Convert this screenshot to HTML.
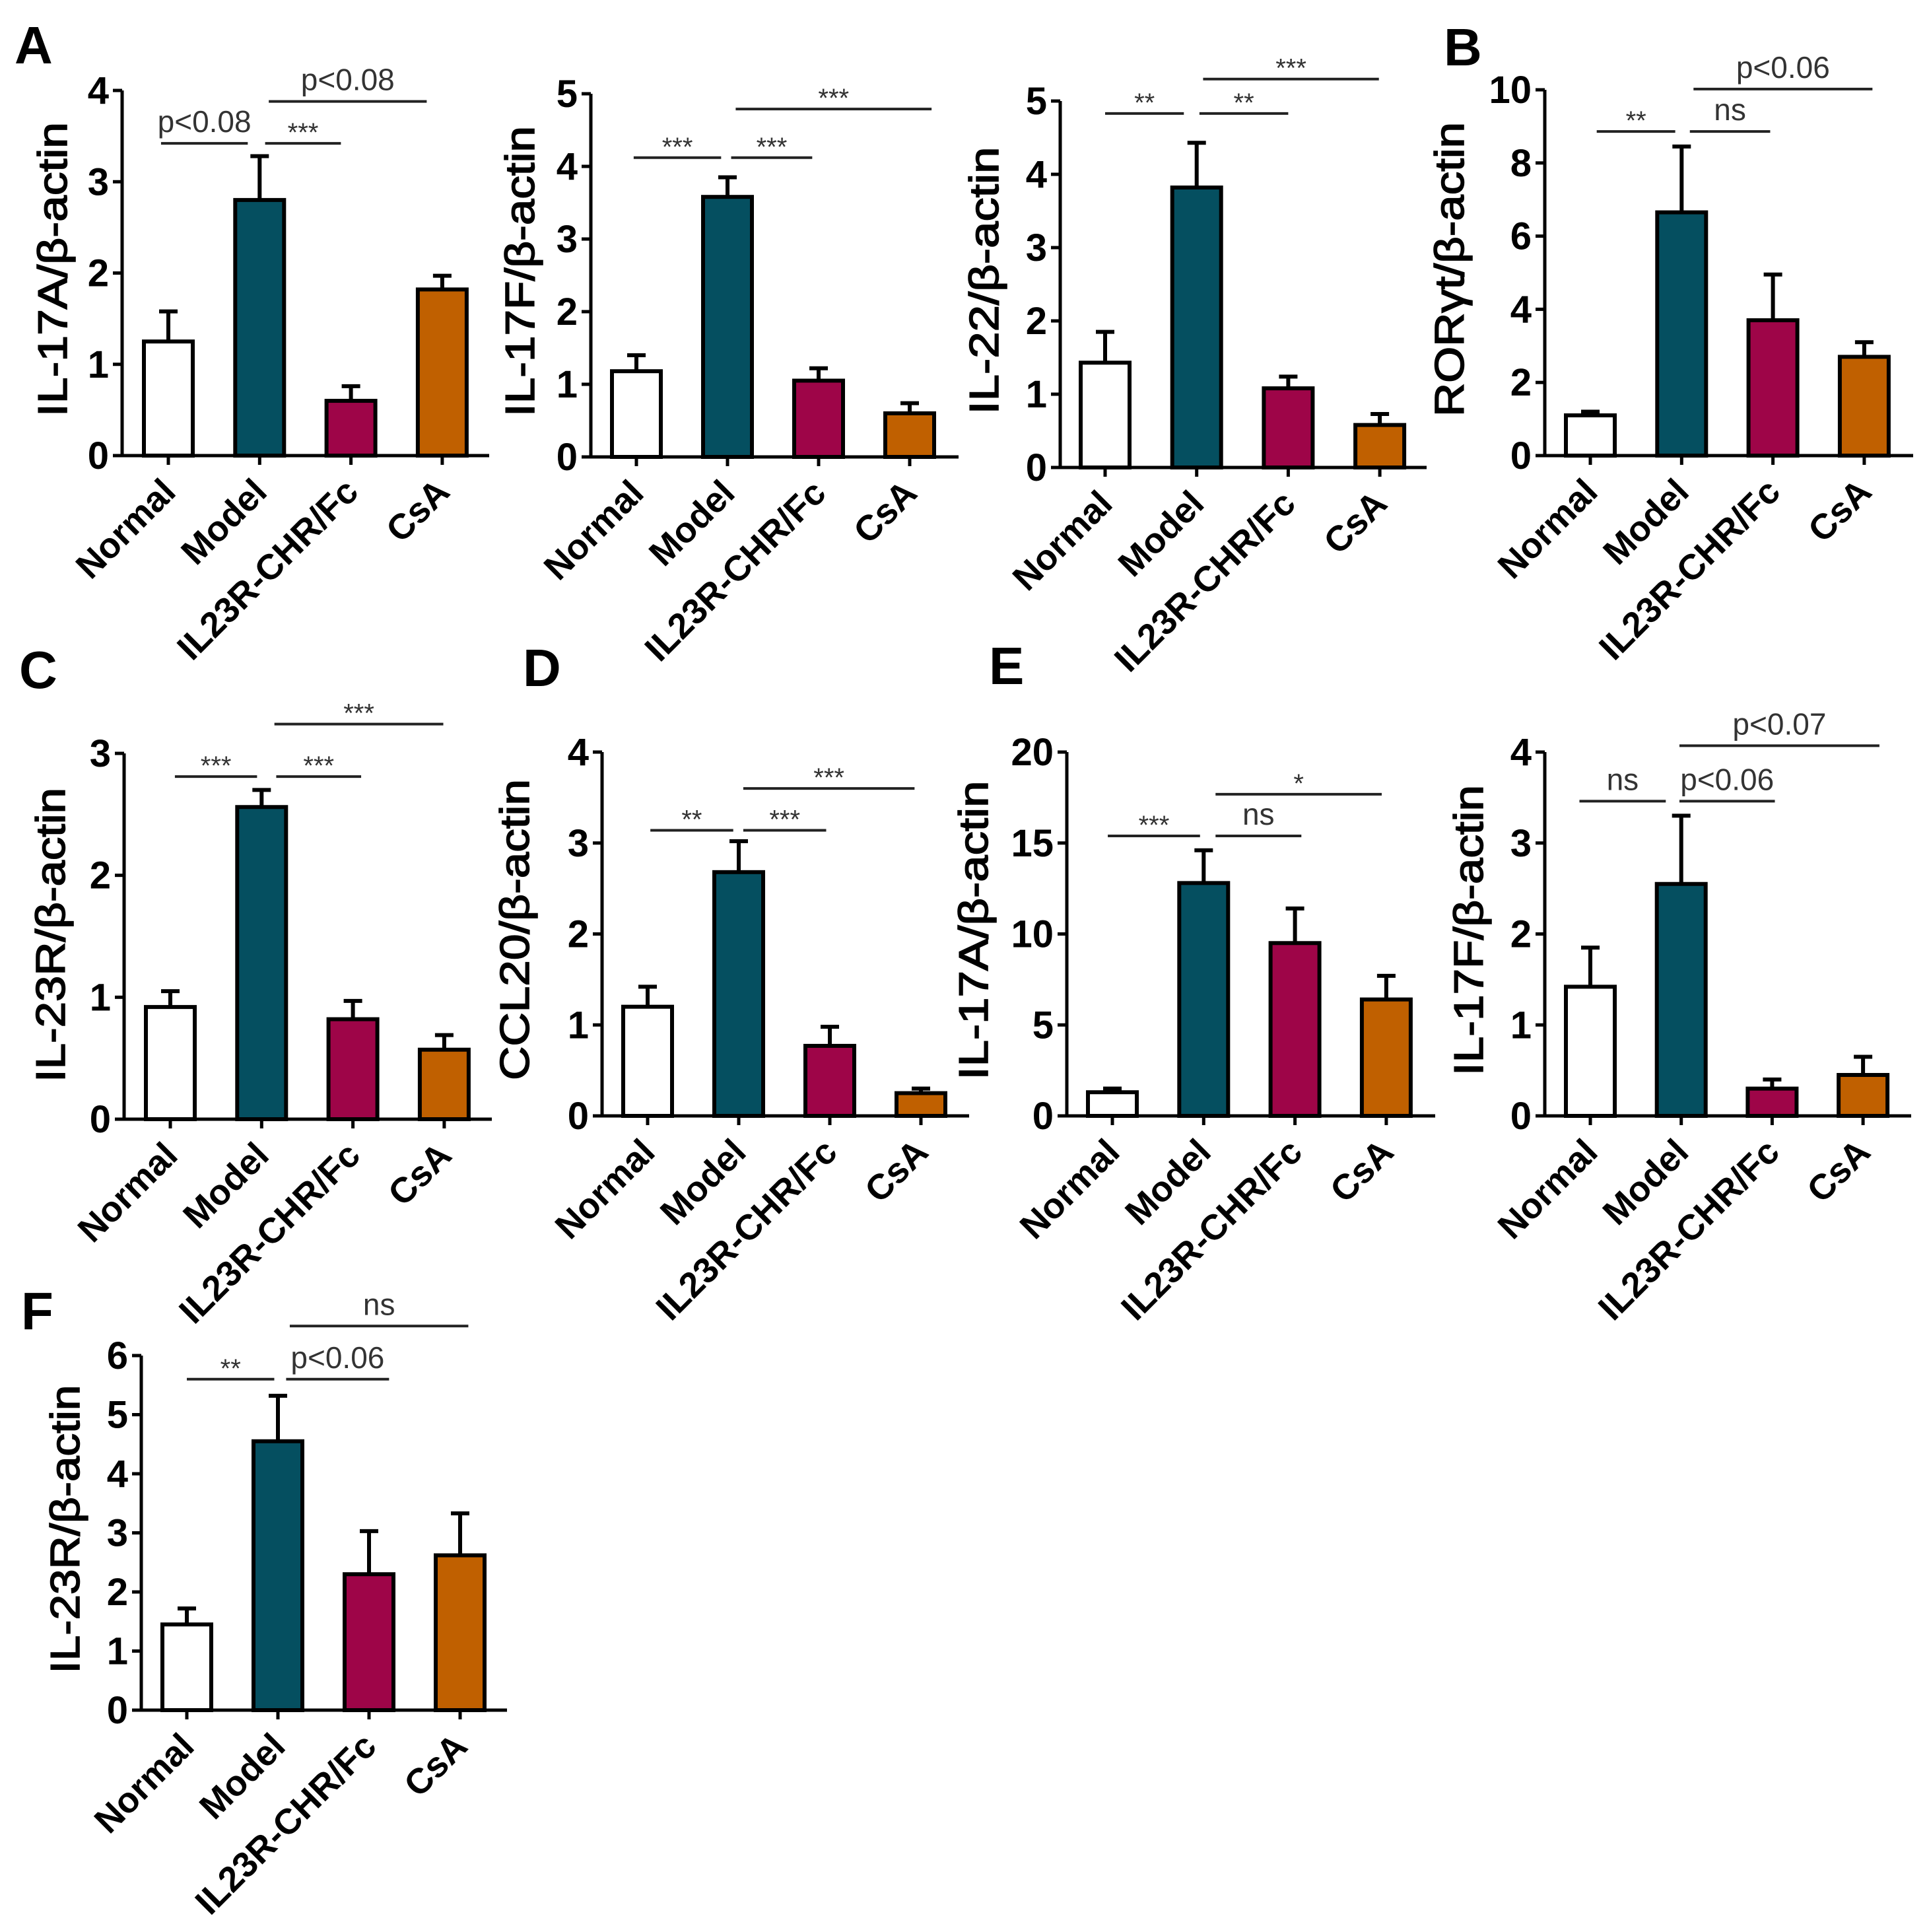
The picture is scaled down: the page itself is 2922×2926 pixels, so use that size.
<!DOCTYPE html>
<html><head><meta charset="utf-8">
<style>
html,body{margin:0;padding:0;background:#fff;}
svg{display:block;font-family:"Liberation Sans",Arial,sans-serif;}
</style></head>
<body>
<svg id="fig" width="2922" height="2926" viewBox="0 0 2922 2926" xmlns="http://www.w3.org/2000/svg">
<rect width="2922" height="2926" fill="#fff"/>
<g font-weight="bold" font-size="80" fill="#000">
<text x="22" y="96">A</text>
<text x="2187" y="99">B</text>
<text x="29" y="1042">C</text>
<text x="792" y="1039">D</text>
<text x="1498" y="1036">E</text>
<text x="32" y="2013">F</text>
</g>
</svg>
<script>
const categories = ["Normal","Model","IL23R-CHR/Fc","CsA"];
const colors = ["#ffffff","#054f60","#9e0548","#c06000"];
const valA1 = [1.25,2.8,0.6,1.82];   const errA1 = [1.58,3.28,0.76,1.97];
const valA2 = [1.18,3.58,1.05,0.6];  const errA2 = [1.4,3.85,1.22,0.74];
const valA3 = [1.43,3.82,1.08,0.58]; const errA3 = [1.85,4.43,1.24,0.73];
const valB  = [1.1,6.65,3.7,2.7];    const errB  = [1.2,8.45,4.95,3.1];
const valC  = [0.92,2.56,0.82,0.57]; const errC  = [1.05,2.7,0.97,0.69];
const valD  = [1.2,2.68,0.77,0.25];  const errD  = [1.42,3.02,0.98,0.3];
const valE1 = [1.3,12.8,9.5,6.4];    const errE1 = [1.5,14.6,11.4,7.7];
const valE2 = [1.42,2.55,0.3,0.45];  const errE2 = [1.85,3.3,0.4,0.65];
const valF  = [1.45,4.55,2.3,2.62];  const errF  = [1.72,5.32,3.03,3.33];
const ticksA1 = [0,1,2,3,4]; const ticksA2 = [0,1,2,3,4,5]; const ticksA3 = [0,1,2,3,4,5];
const ticksB = [0,2,4,6,8,10]; const ticksC = [0,1,2,3]; const ticksD = [0,1,2,3,4];
const ticksE1 = [0,5,10,15,20]; const ticksE2 = [0,1,2,3,4]; const ticksF = [0,1,2,3,4,5,6];
const sigA1 = [[-0.08,0.87,3.42,"p<0.08"],[1.06,1.89,3.42,"***"],[1.10,2.83,3.88,"p<0.08"]];
const sigA2 = [[-0.03,0.93,4.12,"***"],[1.04,1.93,4.12,"***"],[1.09,3.24,4.79,"***"]];
const sigA3 = [[0,0.86,4.83,"**"],[1.03,2.0,4.83,"**"],[1.07,2.99,5.3,"***"]];
const sigB  = [[0.07,0.93,8.86,"**"],[1.09,1.97,8.86,"ns"],[1.13,3.09,10.02,"p<0.06"]];
const sigC  = [[0.05,0.95,2.81,"***"],[1.16,2.09,2.81,"***"],[1.14,2.99,3.24,"***"]];
const sigD  = [[0.03,0.94,3.14,"**"],[1.05,1.96,3.14,"***"],[1.05,2.93,3.6,"***"]];
const sigE1 = [[-0.05,0.96,15.39,"***"],[1.13,2.07,15.39,"ns"],[1.13,2.95,17.68,"*"]];
const sigE2 = [[-0.12,0.83,3.46,"ns"],[0.98,2.03,3.46,"p<0.06"],[0.98,3.18,4.07,"p<0.07"]];
const sigF  = [[0,0.96,5.6,"**"],[1.09,2.22,5.6,"p<0.06"],[1.13,3.09,6.5,"ns"]];

const panels = [
 {id:"il17a-a",title:"IL-17A/β-actin",vals:valA1,errs:errA1,ticks:ticksA1,sig:sigA1,ax:185,y0:690,ytop:137,xend:741,c0:255,step:138.3,tx:80,ty:408,tl:446},
 {id:"il17f-a",title:"IL-17F/β-actin",vals:valA2,errs:errA2,ticks:ticksA2,sig:sigA2,ax:895,y0:692,ytop:142,xend:1452,c0:964,step:138,tx:788,ty:411,tl:440},
 {id:"il22-a",title:"IL-22/β-actin",vals:valA3,errs:errA3,ticks:ticksA3,sig:sigA3,ax:1606,y0:708,ytop:153,xend:2161,c0:1674,step:138.7,tx:1491,ty:425,tl:405},
 {id:"rorgt-b",title:"RORγt/β-actin",vals:valB,errs:errB,ticks:ticksB,sig:sigB,ax:2340,y0:690,ytop:136,xend:2898,c0:2409,step:138.3,tx:2196,ty:408,tl:446},
 {id:"il23r-c",title:"IL-23R/β-actin",vals:valC,errs:errC,ticks:ticksC,sig:sigC,ax:188,y0:1695,ytop:1141,xend:745,c0:258,step:138.3,tx:77,ty:1416,tl:446},
 {id:"ccl20-d",title:"CCL20/β-actin",vals:valD,errs:errD,ticks:ticksD,sig:sigD,ax:912,y0:1690,ytop:1139,xend:1468,c0:981,step:138,tx:780,ty:1408,tl:456},
 {id:"il17a-e",title:"IL-17A/β-actin",vals:valE1,errs:errE1,ticks:ticksE1,sig:sigE1,ax:1616,y0:1690,ytop:1139,xend:2174,c0:1685,step:138.3,tx:1475,ty:1409,tl:453},
 {id:"il17f-e",title:"IL-17F/β-actin",vals:valE2,errs:errE2,ticks:ticksE2,sig:sigE2,ax:2340,y0:1690,ytop:1139,xend:2895,c0:2409,step:137.7,tx:2225,ty:1409,tl:440},
 {id:"il23r-f",title:"IL-23R/β-actin",vals:valF,errs:errF,ticks:ticksF,sig:sigF,ax:214,y0:2590,ytop:2053,xend:768,c0:283,step:138,tx:99,ty:2316,tl:437}
];
const NS="http://www.w3.org/2000/svg";
const svg=document.getElementById("fig");
function mk(tag,attrs,parent){const e=document.createElementNS(NS,tag);for(const k in attrs)e.setAttribute(k,attrs[k]);parent.appendChild(e);return e;}

panels.forEach(p=>{
  const g=mk("g",{},svg);
  
  
  const ymax=p.ticks[p.ticks.length-1];
  const Y=v=>p.y0-(v/ymax)*(p.y0-p.ytop);
  const X=i=>p.c0+i*p.step;
  p.vals.forEach((v,i)=>{
    const bw=74;
    const r=mk("rect",{x:X(i)-bw/2,y:Y(v),width:bw,height:p.y0-Y(v),fill:colors[i],stroke:"#000","stroke-width":6},g);
    
    
    const e=mk("path",{d:`M${X(i)} ${Y(v)} V${Y(p.errs[i])} M${X(i)-14} ${Y(p.errs[i])} H${X(i)+14}`,stroke:"#000","stroke-width":6,fill:"none"},g);
    
    
  });
  const ya=mk("path",{d:`M${p.ax} ${p.ytop} V${p.y0}`,stroke:"#000","stroke-width":5,fill:"none"},g);
  
  
  const xa=mk("path",{d:`M${p.ax-14} ${p.y0} H${p.xend}`,stroke:"#000","stroke-width":5,fill:"none"},g);
  
  
  p.ticks.forEach(t=>{
    mk("path",{d:`M${p.ax-14} ${Y(t)} H${p.ax}`,stroke:"#000","stroke-width":5},g);
    const tl=mk("text",{x:p.ax-20,y:Y(t)+20,"text-anchor":"end","font-size":58,"font-weight":"bold",fill:"#000"},g);
    tl.textContent=t;
    
    
  });
  categories.forEach((c,i)=>{
    mk("path",{d:`M${X(i)} ${p.y0} V${p.y0+14}`,stroke:"#000","stroke-width":5},g);
    const ax=X(i)+14, ay=p.y0+58;
    const cl=mk("text",{x:ax,y:ay,"text-anchor":"end","font-size":54,"font-weight":"bold",fill:"#000",transform:`rotate(-45 ${ax} ${ay})`},g);
    cl.textContent=c;
    
    
  });
  const bx=p.tx+21;
  const tt=mk("text",{x:bx,y:p.ty,"text-anchor":"middle","font-size":62,fill:"#000",textLength:p.tl,lengthAdjust:"spacingAndGlyphs",transform:`rotate(-90 ${bx} ${p.ty})`,"stroke":"#000","stroke-width":1.6},g);
  tt.textContent=p.title;
  
  
  p.sig.forEach(s=>{
    const x1=p.c0+s[0]*p.step, x2=p.c0+s[1]*p.step, y=Y(s[2]);
    const l=mk("path",{d:`M${x1} ${y} H${x2}`,stroke:"#222","stroke-width":4},g);
    
    
    const star=s[3].indexOf("*")===0;
    const t=mk("text",{x:(x1+x2)/2,y:star?y-3:y-17,"text-anchor":"middle","font-size":star?40:46,fill:"#333"},g);
    t.textContent=s[3];
    
    
  });
});
</script>
</body></html>
